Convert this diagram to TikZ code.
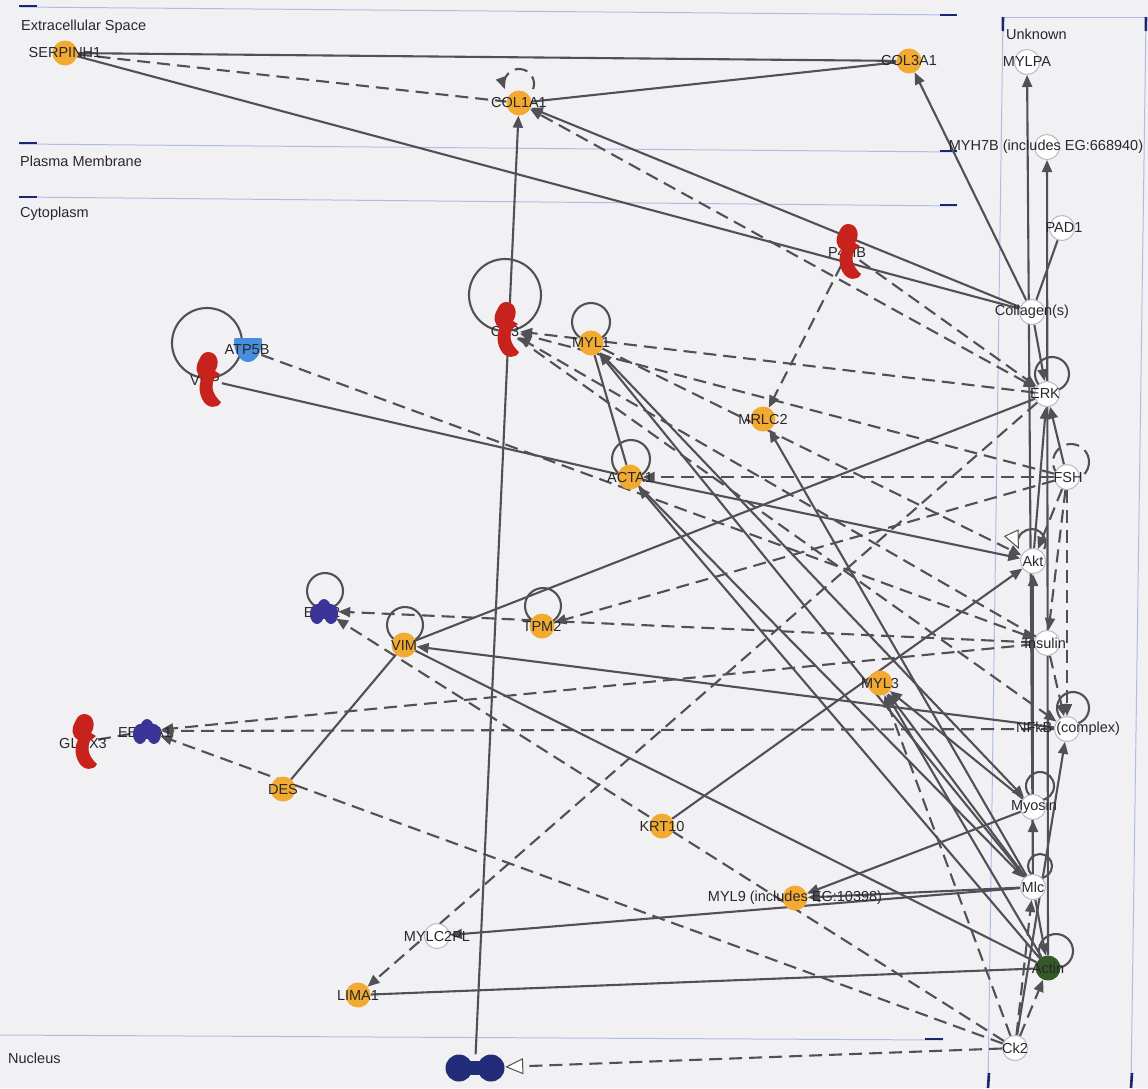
\documentclass[tikz,border=0pt]{standalone}
\usepackage{fontspec}
\setmainfont{Liberation Sans}
\usetikzlibrary{arrows.meta}
\definecolor{bgc}{RGB}{241,241,243}
\definecolor{orng}{RGB}{242,170,48}
\definecolor{enzred}{RGB}{200,34,28}
\definecolor{trblue}{RGB}{72,142,222}
\definecolor{trpurp}{RGB}{58,52,150}
\definecolor{navy}{RGB}{34,44,120}
\definecolor{actgreen}{RGB}{52,88,38}
\definecolor{edgec}{RGB}{80,80,86}
\definecolor{compline}{RGB}{175,188,235}
\definecolor{tickc}{RGB}{28,38,110}
\definecolor{unkring}{RGB}{185,185,195}
\definecolor{labc}{RGB}{40,40,44}
\newcommand\labfont{\fontsize{14.5}{16}\selectfont}
\pgfdeclarelayer{back}
\pgfdeclarelayer{edges}
\pgfsetlayers{back,edges,main}
\tikzset{
  lab/.style={font=\labfont, text=labc, inner sep=0pt},
  gnode/.style={circle, fill=orng, minimum size=25pt, inner sep=0pt},
  unode/.style={circle, draw=unkring, line width=1pt, fill=white, minimum size=25pt, inner sep=0pt},
  anode/.style={circle, fill=actgreen, minimum size=25pt, inner sep=0pt},
  hnode/.style={circle, minimum size=28pt, inner sep=0pt},
  es/.style={draw=edgec, line width=2.1pt},
  ed/.style={es, dash pattern=on 13pt off 7pt},
  ar/.style={-{Triangle[length=12pt,width=10pt]}},
  arb/.style={{Triangle[length=12pt,width=10pt]}-{Triangle[length=12pt,width=10pt]}},
  opentip/.style={-{Triangle[open,length=18pt,width=16pt,fill=white,line width=1pt]}},
  compl/.style={draw=compline, line width=1pt},
  tickm/.style={draw=tickc, line width=2.6pt},
  enzyme/.pic={\fill[enzred] (0,-28) .. controls (10,-28) and (12,-16) .. (7,-9) -- (12,-6) -- (6,-1)
      .. controls (3,6) and (4,14) .. (13,22) .. controls (10,29) and (0,28) .. (-4,22)
      .. controls (-9,15) and (-10,5) .. (-6,-2) .. controls (-12,-5) and (-13,-13) .. (-9,-20)
      .. controls (-7,-25) and (-4,-28) .. (0,-28) -- cycle;},
  transreg/.pic={\fill[trpurp] (-7,3) ellipse[x radius=7,y radius=10]
      (0,-2) ellipse[x radius=7,y radius=10] (7,3) ellipse[x radius=7,y radius=10];},
  transp/.pic={\fill[trblue] (-14,-9) .. controls (-14,-12) .. (-11,-12) -- (11,-12)
      .. controls (14,-12) .. (14,-9) .. controls (14,2) and (8,12) .. (0,12)
      .. controls (-8,12) and (-14,2) .. (-14,-9) -- cycle;}
}
\begin{document}
\begin{tikzpicture}[x=1pt,y=-1pt]
\useasboundingbox (0,0) rectangle (1148,1088);

% ---------- background and compartments ----------
\begin{pgfonlayer}{back}
\fill[bgc] (0,0) rectangle (1148,1088);
\draw[compl] (20,7) -- (957,15);
\draw[compl] (20,144) -- (957,152);
\draw[compl] (20,197) -- (957,206);
\draw[compl] (0,1035) -- (943,1040);
\draw[tickm] (19,6) -- (37,6);
\draw[tickm] (19,143) -- (37,143);
\draw[tickm] (19,197) -- (37,197);
\draw[tickm] (940,15) -- (957,15);
\draw[tickm] (940,151) -- (957,151);
\draw[tickm] (940,205) -- (957,205);
\draw[tickm] (925,1039) -- (943,1039);
\draw[compl] (1003,17) -- (1146,17);
\draw[compl] (1003,17) -- (988,1088);
\draw[compl] (1146,17) -- (1131,1088);
\draw[tickm] (1003,17) -- (1002.8,31);
\draw[tickm] (1146,17) -- (1145.8,31);
\draw[tickm] (989,1073) -- (988,1088);
\draw[tickm] (1132,1073) -- (1131,1088);
\end{pgfonlayer}

\node[lab,anchor=west] at (21,27) {Extracellular Space};
\node[lab,anchor=west] at (20,161) {Plasma Membrane};
\node[lab,anchor=west] at (20,214) {Cytoplasm};
\node[lab,anchor=west] at (8,1058) {Nucleus};
\node[lab,anchor=west] at (1006,34) {Unknown};

% ---------- molecules ----------
% orange circles
\node[gnode] (serp) at (65,53) {};      \node[lab] at (serp) {SERPINH1};
\node[gnode] (col3) at (909,61) {};     \node[lab] at (col3) {COL3A1};
\node[gnode] (col1) at (519,103) {};    \node[lab] at (col1) {COL1A1};
\node[gnode] (myl1) at (591,343) {};    \node[lab] at (myl1) {MYL1};
\node[gnode] (mrlc2) at (763,419) {};   \node[lab] at (mrlc2) {MRLC2};
\node[gnode] (acta1) at (630,477) {};   \node[lab] at (acta1) {ACTA1};
\node[gnode] (vim) at (404,645) {};     \node[lab] at (vim) {VIM};
\node[gnode] (tpm2) at (542,626) {};    \node[lab] at (tpm2) {TPM2};
\node[gnode] (myl3) at (880,683) {};    \node[lab] at (myl3) {MYL3};
\node[gnode] (des) at (283,789) {};     \node[lab] at (des) {DES};
\node[gnode] (krt10) at (662,826) {};   \node[lab] at (krt10) {KRT10};
\node[gnode] (myl9) at (795,898) {};    \node[lab] at (myl9) {MYL9 (includes EG:10398)};
\node[gnode] (lima1) at (358,995) {};   \node[lab] at (lima1) {LIMA1};
% group / complex nodes
\node[unode] (mylpa) at (1027,62) {};   \node[lab] at (mylpa) {MYLPA};
\node[unode] (myh7b) at (1047,147) {};  \node[lab] at (1046,147) {MYH7B (includes EG:668940)};
\node[unode] (pad1) at (1062,228) {};   \node[lab] at (1064,228) {PAD1};
\node[unode] (coll) at (1032,312) {};   \node[lab] at (coll) {Collagen(s)};
\node[unode] (erk) at (1047,394) {};    \node[lab] at (1045,394) {ERK};
\node[unode] (fsh) at (1067,477) {};    \node[lab] at (1068,477) {FSH};
\node[unode] (akt) at (1033,561) {};    \node[lab] at (akt) {Akt};
\node[unode] (ins) at (1047,643) {};    \node[lab] at (1045,643) {Insulin};
\node[unode] (nfkb) at (1067,729) {};   \node[lab] at (1068,729) {NFkB (complex)};
\node[unode] (myosin) at (1033,807) {}; \node[lab] at (1034,807) {Myosin};
\node[unode] (mlc) at (1033,887) {};    \node[lab] at (mlc) {Mlc};
\node[unode] (mylc2pl) at (437,936) {}; \node[lab] at (mylc2pl) {MYLC2PL};
\node[unode] (ck2) at (1015,1048) {};   \node[lab] at (ck2) {Ck2};
\node[anode] (actin) at (1048,968) {};  \node[lab] at (actin) {Actin};
% enzymes
\node[hnode] (p4hb) at (848,252) {};    \node[lab] at (847,253) {P4HB};  \pic at (848,252) {enzyme};
\node[hnode] (ca3) at (506,330) {};     \node[lab] at (505,331) {CA3};   \pic at (506,330) {enzyme};
\node[hnode] (vcp) at (208,380) {};     \node[lab] at (205,380) {VCP};   \pic at (208,380) {enzyme};
\node[hnode] (glrx3) at (84,742) {};    \node[lab] at (83,743) {GLRX3};  \pic at (84,742) {enzyme};
% translation regulators
\node[hnode] (eef2) at (324,611) {};    \node[lab] at (322,612) {EEF2};   \pic at (324,611) {transreg};
\node[hnode] (eef1a1) at (147,731) {};  \node[lab] at (145,732) {EEF1A1}; \pic at (147,731) {transreg};
% transporter
\node[hnode] (atp) at (248,350) {};     \pic at (248,350) {transp};     \node[lab] at (247,350) {ATP5B};
% nuclear molecule
\node[rectangle, minimum width=60pt, minimum height=27pt, inner sep=0pt] (nuc) at (475,1068) {};
\fill[navy] (459,1068) circle[radius=13.5];
\fill[navy] (491,1068) circle[radius=13.5];
\fill[navy] (459,1061) rectangle (491,1075);

% ---------- relationships ----------
\begin{pgfonlayer}{edges}
% self loops
\draw[ed,ar] (533.1,89.1) arc[start angle=20,end angle=-200,radius=15];
\draw[es] (505,295) circle[radius=36];
\draw[es] (207,343) circle[radius=35];
\draw[es] (591,322) circle[radius=19];
\draw[es] (631,459) circle[radius=19];
\draw[es] (325,591) circle[radius=18];
\draw[es] (405,625) circle[radius=18];
\draw[es] (543,606) circle[radius=18];
\draw[es] (1052,374) circle[radius=17];
\draw[ed] (1071,462) circle[radius=18];
\draw[es,opentip] (1044.2,549) arc[start angle=25,end angle=-205,radius=14];
\draw[es] (1073,708) circle[radius=16];
\draw[es] (1040,786) circle[radius=14];
\draw[es] (1040,866) circle[radius=12];
\draw[es] (1056,951) circle[radius=17];
% extracellular
\draw[es] (serp) -- (col3);
\draw[ed] (serp) -- (col1);
\draw[es] (serp) -- (coll);
\draw[es] (col3) -- (col1);
\draw[es,ar] (coll) -- (col3);
\draw[es,ar] (coll) -- (col1);
\draw[ed,arb] (erk) -- (col1);
\draw[es,ar] (nuc) -- (col1);
% cytoplasm
\draw[ed,ar] (p4hb) -- (mrlc2);
\draw[ed,ar] (p4hb) -- (erk);
\draw[ed,ar] (erk) -- (ca3);
\draw[ed,ar] (fsh) -- (ca3);
\draw[ed,ar] (ins) -- (ca3);
\draw[ed,ar] (ca3) -- (nfkb);
\draw[ed,ar] (myl1) -- (akt);
\draw[es] (myl1) -- (acta1);
\draw[es,ar] (mlc) -- (myl1);
\draw[es,arb] (myl1) -- (myosin);
\draw[es,ar] (acta1) -- (mlc);
\draw[es,ar] (mlc) -- (mrlc2);
\draw[ed,ar] (fsh) -- (acta1);
\draw[es] (vcp) -- (acta1);
\draw[es,ar] (acta1) -- (akt);
\draw[es,ar] (actin) -- (acta1);
\draw[ed,ar] (atp) -- (ins);
\draw[ed,ar] (ins) -- (eef2);
\draw[ed,ar] (ck2) -- (eef2);
\draw[es,ar] (nfkb) -- (vim);
\draw[es] (vim) -- (actin);
\draw[es] (vim) -- (erk);
\draw[es] (vim) -- (des);
\draw[ed,ar] (fsh) -- (tpm2);
\draw[ed] (glrx3) -- (eef1a1);
\draw[ed,ar] (ins) -- (eef1a1);
\draw[ed,ar] (nfkb) -- (eef1a1);
\draw[ed,ar] (ck2) -- (eef1a1);
\draw[es,ar] (mlc) -- (myl3);
\draw[es,ar] (actin) -- (myl3);
\draw[es,ar] (myosin) -- (myl3);
\draw[ed,ar] (ck2) -- (myl3);
\draw[es,ar] (krt10) -- (akt);
% right column
\draw[es,ar] (mlc) -- (mylpa);
\draw[es,ar] (actin) -- (myh7b);
\draw[es] (pad1) -- (coll);
\draw[es,ar] (coll) -- (erk);
\draw[es,ar] (fsh) -- (erk);
\draw[es,ar] (akt) -- (erk);
\draw[ed,ar] (fsh) -- (akt);
\draw[ed,ar] (fsh) -- (ins);
\draw[ed,ar] (fsh) -- (nfkb);
\draw[es,ar] (myosin) -- (akt);
\draw[ed,ar] (ins) -- (nfkb);
\draw[es,ar] (mlc) -- (myosin);
\draw[ed,ar] (ck2) -- (mlc);
\draw[ed,ar] (ck2) -- (actin);
\draw[es,ar] (mlc) -- (actin);
\draw[es,ar] (ck2) -- (nfkb);
\draw[es,ar] (mlc) -- (myl9);
\draw[es,ar] (myosin) -- (myl9);
\draw[es,ar] (mlc) -- (mylc2pl);
\draw[ed,ar] (erk) -- (lima1);
\draw[es] (actin) -- (lima1);
\draw[ed,opentip] (ck2) -- (nuc);
\end{pgfonlayer}
\end{tikzpicture}
\end{document}
